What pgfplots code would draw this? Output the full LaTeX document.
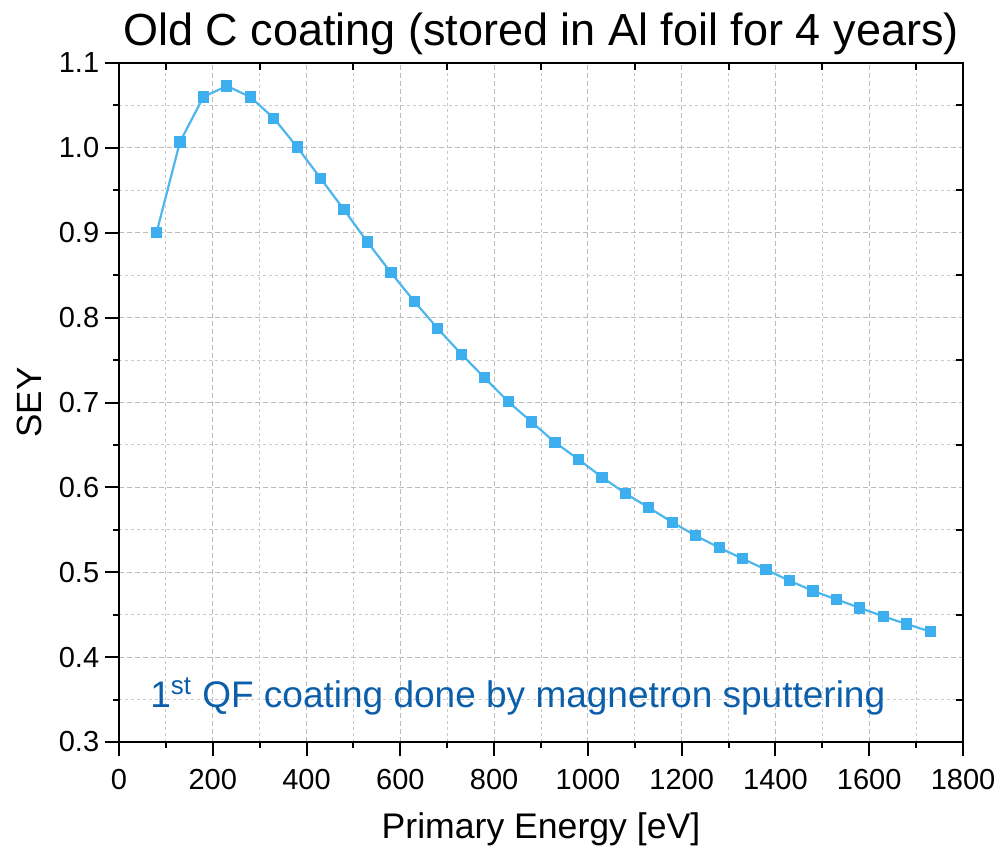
\documentclass[border=0pt]{standalone}
\usepackage{fontspec}
\setmainfont{Liberation Sans}
\usepackage{pgfplots}
\pgfplotsset{compat=1.18}
\definecolor{lineblue}{HTML}{4DB6EC}
\definecolor{markblue}{HTML}{3DAFEF}
\definecolor{textblue}{HTML}{0B5EAA}
\definecolor{gridgray}{HTML}{BBBBBB}
\begin{document}
\begin{tikzpicture}
\useasboundingbox (-59.5pt,-54.5pt) rectangle (440.5pt,371pt);
\begin{axis}[
  at={(0,0)}, anchor=south west,
  scale only axis, width=422pt, height=339.5pt,
  xmin=0, xmax=1800, ymin=0.3, ymax=1.1,
  xtick={0,200,...,1800},
  ytick={0.3,0.4,0.5,0.6,0.7,0.8,0.9,1.0,1.1},
  minor x tick num=1, minor y tick num=1,
  xtick pos=bottom, ytick pos=left,
  tick align=outside,
  major tick length=7pt, minor tick length=3pt,
  every tick/.style={black, line width=1pt},
  axis line style={line width=1pt},
  grid=both,
  major grid style={gridgray, dash pattern=on 2.5pt off 1.5pt, line width=0.6pt},
  minor grid style={gridgray!80, dash pattern=on 1.5pt off 1.5pt, line width=0.5pt},
  /pgf/number format/assume math mode=true,
  yticklabel style={/pgf/number format/fixed, /pgf/number format/precision=1, /pgf/number format/fixed zerofill, font=\fontsize{14.5}{14.5}\selectfont, xshift=0.6pt},
  xticklabel style={/pgf/number format/1000 sep={}, font=\fontsize{14.5}{14.5}\selectfont, yshift=-3pt},
  scaled ticks=false,
  xlabel={Primary Energy [eV]},
  ylabel={SEY},
  xlabel style={font=\fontsize{17.8}{17.8}\selectfont, at={(axis description cs:0.5,0)}, anchor=center, yshift=-43.5pt},
  ylabel style={font=\fontsize{17.5}{17.5}\selectfont, at={(axis description cs:-0.1066,0.5)}, anchor=center},
  clip=false,
]
\addplot[lineblue, line width=1.1pt, mark=square*, mark size=2.25pt, mark options={fill=markblue, draw=markblue}] coordinates {
(80,0.900) (130,1.007) (180,1.060) (230,1.073) (280,1.060) (330,1.035)
(380,1.001) (430,0.964) (480,0.927) (530,0.889) (580,0.853) (630,0.819)
(680,0.787) (730,0.757) (780,0.729) (830,0.701) (880,0.677) (930,0.653)
(980,0.633) (1030,0.612) (1080,0.593) (1130,0.576) (1180,0.559) (1230,0.543)
(1280,0.529) (1330,0.516) (1380,0.503) (1430,0.490) (1480,0.478) (1530,0.468)
(1580,0.458) (1630,0.448) (1680,0.439) (1730,0.430)
};
\node[anchor=base west, inner sep=0pt, text=textblue, font=\fontsize{18.5}{18.5}\selectfont] at (axis cs:66,0.341) {1\textsuperscript{st} QF coating done by magnetron sputtering};
\node[anchor=base, inner sep=0pt, font=\fontsize{22.5}{22.5}\selectfont] at (rel axis cs:0.5,1) [yshift=9pt] {Old C coating (stored in Al foil for 4 years)};
\end{axis}
\begin{axis}[
  at={(0,0)}, anchor=south west,
  scale only axis, width=422pt, height=339.5pt,
  xmin=0, xmax=1800, ymin=0.3, ymax=1.1,
  xtick={100,300,...,1700},
  ytick={0.35,0.45,0.55,0.65,0.75,0.85,0.95,1.05},
  xtick pos=top, ytick pos=right,
  tick align=inside,
  major tick length=3.5pt,
  every tick/.style={black, line width=1pt},
  xticklabels={}, yticklabels={},
  axis line style={draw=none},
]
\end{axis}
\end{tikzpicture}
\end{document}
